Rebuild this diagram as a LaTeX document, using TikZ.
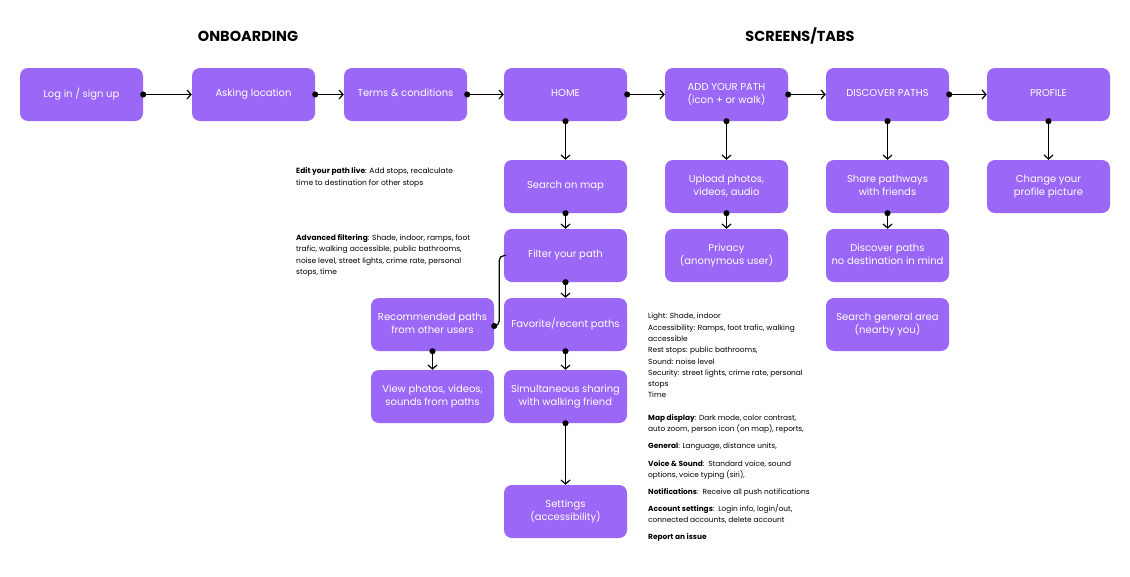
\documentclass[tikz,border=0pt]{standalone}
\usepackage{fontspec}
\setmainfont{Poppins}
\usetikzlibrary{arrows.meta,calc}
\definecolor{purp}{HTML}{9B67F6}
\begin{document}
\begin{tikzpicture}[x=1pt,y=-1pt,
  box/.style={fill=purp, rounded corners=8pt, minimum width=123pt, minimum height=53pt, text=white, font=\fontsize{10}{13}\selectfont, align=center, inner sep=0pt, execute at begin node={\vphantom{Ag}}, execute at end node={\vphantom{Ag}}},
  conn/.style={draw=black, line width=1.2pt, shorten <=-3pt, {Circle[length=6pt]}-{Straight Barb[length=4pt,width=9pt]}},
  plain/.style={draw=black, line width=1.2pt, shorten <=-3pt, {Circle[length=6pt]}-, rounded corners=5pt},
  note/.style={anchor=north west, inner sep=0pt, align=left, font=\fontsize{7.4}{11.3}\selectfont},
  ttl/.style={font=\fontsize{14.5}{16}\selectfont\bfseries}]
\useasboundingbox (0,0) rectangle (1130,576);
\fill[white] (0,0) rectangle (1130,576);

\node[ttl] (t1) at (248,36) {ONBOARDING};
\node[ttl] (t2) at (800,36) {SCREENS/TABS};

% row 1
\node[box] (login) at (81.5,94.5) {Log in / sign up};
\node[box] (ask) at (253.5,94.5) {Asking location};
\node[box] (terms) at (405.5,94.5) {Terms \& conditions};
\node[box] (home) at (565.5,94.5) {HOME};
\node[box] (add) at (726.5,94.5) {ADD YOUR PATH\\(icon + or walk)};
\node[box] (disc) at (887.5,94.5) {DISCOVER PATHS};
\node[box] (prof) at (1048.5,94.5) {PROFILE};

% home column
\node[box] (search) at (565.5,186.5) {Search on map};
\node[box] (filter) at (565.5,255.5) {Filter your path};
\node[box] (fav) at (565.5,324.5) {Favorite/recent paths};
\node[box] (sim) at (565.5,396.5) {Simultaneous sharing\\with walking friend};
\node[box] (set) at (565.5,511.5) {Settings\\(accessibility)};

% left column
\node[box] (rec) at (432.5,324.5) {Recommended paths\\from other users};
\node[box] (view) at (432.5,396.5) {View photos, videos,\\sounds from paths};

% add column
\node[box] (upload) at (726.5,186.5) {Upload photos,\\videos, audio};
\node[box] (priv) at (726.5,255.5) {Privacy\\(anonymous user)};

% discover column
\node[box] (share) at (887.5,186.5) {Share pathways\\with friends};
\node[box] (nodest) at (887.5,255.5) {Discover paths\\no destination in mind};
\node[box] (area) at (887.5,324.5) {Search general area\\(nearby you)};

% profile column
\node[box] (pic) at (1048.5,186.5) {Change your\\profile picture};

% connectors
\draw[conn] (login) -- (ask);
\draw[conn] (ask) -- (terms);
\draw[conn] (terms) -- (home);
\draw[conn] (home) -- (add);
\draw[conn] (add) -- (disc);
\draw[conn] (disc) -- (prof);
\draw[conn] (home) -- (search);
\draw[conn] (search) -- (filter);
\draw[conn] (filter) -- (fav);
\draw[conn] (fav) -- (sim);
\draw[conn] (sim) -- (set);
\draw[conn] (add) -- (upload);
\draw[conn] (upload) -- (priv);
\draw[conn] (disc) -- (share);
\draw[conn] (share) -- (nodest);
\draw[conn] (prof) -- (pic);
\draw[conn] (rec) -- (view);
\draw[plain] ($(rec.east)+(0,1.5)$) -- ++(5,0) |- (filter.west);

% notes
\node[note, font=\fontsize{7.5}{12}\selectfont] (n1) at (296,167) {\textbf{Edit your path live}: Add stops, recalculate\\time to destination for other stops};
\node[note, font=\fontsize{7.5}{11.5}\selectfont] (n2) at (296,234) {\textbf{Advanced filtering}: Shade, indoor, ramps, foot\\trafic, walking accessible, public bathrooms,\\noise level, street lights, crime rate, personal\\stops, time};
\node[note] (n3) at (648,313) {Light: Shade, indoor\\Accessibility: Ramps, foot trafic, walking\\accessible\\Rest stops: public bathrooms,\\Sound: noise level\\Security: street lights, crime rate, personal\\stops\\Time};
\node[note] (n4) at (648,414) {\textbf{Map display}: Dark mode, color contrast,\\auto zoom, person icon (on map), reports,};
\node[note] (n5) at (648,443) {\textbf{General}: Language, distance units,};
\node[note] (n6) at (648,460) {\textbf{Voice \& Sound}:\ \ Standard voice, sound\\options, voice typing (siri),};
\node[note] (n7) at (648,488) {\textbf{Notifications}:\ \ Receive all push notifications};
\node[note] (n8) at (648,504) {\textbf{Account settings}:\ \ Login info, login/out,\\connected accounts, delete account};
\node[note] (n9) at (648,533) {\textbf{Report an issue}};
\end{tikzpicture}
\end{document}
